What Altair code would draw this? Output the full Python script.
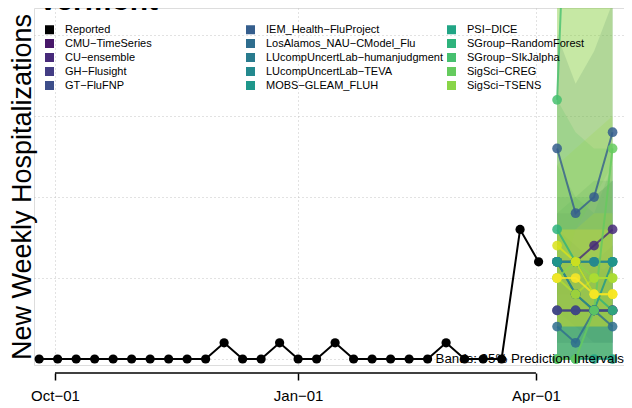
import altair as alt
import pandas as pd

# ---------------- data ----------------
reported_dates = [
    "2021-09-25", "2021-10-02", "2021-10-09", "2021-10-16", "2021-10-23", "2021-10-30",
    "2021-11-06", "2021-11-13", "2021-11-20", "2021-11-27", "2021-12-04", "2021-12-11",
    "2021-12-18", "2021-12-25", "2022-01-01", "2022-01-08", "2022-01-15", "2022-01-22",
    "2022-01-29", "2022-02-05", "2022-02-12", "2022-02-19", "2022-02-26", "2022-03-05",
    "2022-03-12", "2022-03-19", "2022-03-26", "2022-04-02",
]
reported_values = [0, 0, 0, 0, 0, 0, 0, 0, 0, 0, 1, 0, 0, 1, 0, 0, 1, 0, 0, 0, 0, 0, 1, 0, 0, 0, 8, 6]

forecast_dates = ["2022-04-09", "2022-04-16", "2022-04-23", "2022-04-30"]

model_names = [
    "CMU−TimeSeries", "CU−ensemble", "GH−Flusight", "GT−FluFNP",
    "IEM_Health−FluProject", "LosAlamos_NAU−CModel_Flu", "LUcompUncertLab−humanjudgment",
    "LUcompUncertLab−TEVA", "MOBS−GLEAM_FLUH", "PSI−DICE", "SGroup−RandomForest",
    "SGroup−SIkJalpha", "SigSci−CREG", "SigSci−TSENS",
    "UGA_flucast−OKeeffe", "UMass−trends_ensemble", "UVAFluX−Ensemble",
]
model_colors = [
    "#481769", "#472A7A", "#433D84", "#3D4E8A", "#355E8D", "#2E6D8E", "#297B8E",
    "#23898E", "#1F978B", "#21A585", "#2EB37C", "#46C06F", "#65CB5E", "#89D548",
    "#B0DD2F", "#D8E219", "#FDE725",
]
median_values = [
    [3, 3, 3, 3], [6, 6, 7, 8], [6, 4, 3, 3], [3, 3, 3, 3], [13, 9, 10, 14],
    [2, 1, 3, 2], [6, 6, 6, 6], [6, 6, 6, 6], [6, 4, 3, 6], [0, 0, 0, 0],
    [8, 6, 4, 3], [16, 44, 55, 60], [0, 0, 3, 13], [5, 6, 5, 5],
    [5, 4, 5, 5], [7, 6, 4, 4], [5, 5, 4, 4],
]
lower_values = [
    [1, 1, 1, 1], [4, 4, 5, 5], [3, 2, 1, 1], [1, 1, 1, 1], [0, 0, 0, 0],
    [0, 0, 0, 0], [0, 0, 0, 0], [0, 0, 0, 0], [0, 0, 0, 0], [0, 0, 0, 0],
    [0, 0, 0, 0], [4, 8, 10, 12], [0, 0, 0, 0], [0, 0, 0, 0],
    [2, 2, 2, 2], [2, 2, 2, 2], [2, 2, 2, 2],
]
upper_values = [
    [5, 5, 5, 6], [9, 9, 10, 11], [8, 7, 6, 6], [6, 6, 6, 7], [20, 17, 19, 22],
    [5, 4, 6, 5], [10, 10, 11, 11], [9, 10, 10, 11], [12, 10, 9, 12], [3, 3, 4, 4],
    [16, 14, 13, 13], [45, 90, 120, 150], [28, 30, 35, 40], [12, 13, 14, 15],
    [8, 8, 9, 9], [30, 35, 40, 45], [8, 8, 8, 8],
]
legend_order = [
    "Reported", "IEM_Health−FluProject", "PSI−DICE",
    "CMU−TimeSeries", "LosAlamos_NAU−CModel_Flu", "SGroup−RandomForest",
    "CU−ensemble", "LUcompUncertLab−humanjudgment", "SGroup−SIkJalpha",
    "GH−Flusight", "LUcompUncertLab−TEVA", "SigSci−CREG",
    "GT−FluFNP", "MOBS−GLEAM_FLUH", "SigSci−TSENS",
]
tick_dates = ["2021-10-01", "2022-01-01", "2022-04-01"]
y_grid_values = [0, 5, 10, 15, 20]
title_text = "Vermont"
y_title = "New Weekly Hospitalizations"
band_note = "Bands: 95% Prediction Intervals"

# ---------------- tables ----------------
reported_df = pd.DataFrame({"date": reported_dates, "value": reported_values})
rows = []
for name, med, lo, up in zip(model_names, median_values, lower_values, upper_values):
    for d, m, l, u in zip(forecast_dates, med, lo, up):
        rows.append({"model": name, "date": d, "median": m, "lower": l, "upper": u})
fc_df = pd.DataFrame(rows)
frame_df = pd.DataFrame({"start": [tick_dates[0]], "end": [tick_dates[-1]]})

# ---------------- scales / encodings ----------------
FONT = "Liberation Sans"
W, H = 590, 357

x_scale = alt.Scale(
    type="utc",
    domain=[
        alt.DateTime(year=2021, month=9, date=23, hours=1, minutes=16, utc=True),
        alt.DateTime(year=2022, month=5, date=4, hours=7, minutes=44, utc=True),
    ],
)
y_scale = alt.Scale(domain=[-0.37, 21.67], nice=False, zero=False)

x_axis = alt.Axis(
    values=[alt.DateTime(year=2021, month=10, date=1, utc=True),
            alt.DateTime(year=2022, month=1, date=1, utc=True),
            alt.DateTime(year=2022, month=4, date=1, utc=True)],
    labelExpr="utcFormat(datum.value, '%b−%d')", title=None, offset=8, domain=False,
    ticks=True, tickSize=7, tickWidth=1.5, tickColor="black",
    labelFontSize=15, labelColor="black", labelPadding=8, labelFont=FONT,
    grid=True, gridDash=[1, 3], gridColor="#c4c4c4", gridWidth=1,
)
y_axis = alt.Axis(
    values=y_grid_values, labels=False, ticks=False, domain=False,
    grid=True, gridDash=[1, 3], gridColor="#c4c4c4", gridWidth=1,
    title=y_title, titleFontSize=27, titleFontWeight="normal", titleColor="black",
    titleFont=FONT, titlePadding=4, titleBaseline="alphabetic",
)

color_scale = alt.Scale(domain=["Reported"] + model_names, range=["#000000"] + model_colors)
legend = alt.Legend(
    values=legend_order, title=None, orient="none", legendX=10, legendY=16,
    columns=3, direction="horizontal", gridAlign="all", columnPadding=2,
    rowPadding=2, symbolType="square", symbolSize=81, symbolOpacity=1,
    symbolStrokeWidth=0, labelFontSize=11, labelFont=FONT, labelColor="black",
    labelOffset=10, padding=0, labelLimit=300,
)
C = alt.Color("model:N", scale=color_scale, legend=legend)
X = alt.X("date:T", scale=x_scale, axis=x_axis)

bands = alt.Chart(fc_df).mark_area(opacity=0.2, clip=True).encode(
    x=X, y=alt.Y("lower:Q", scale=y_scale, axis=y_axis), y2="upper:Q", color=C,
)

base = alt.Chart(fc_df).encode(x=X, y=alt.Y("median:Q", scale=y_scale, axis=y_axis))
model_lines = base.mark_line(strokeWidth=2, opacity=0.8, clip=True).encode(color=C)
model_points = base.mark_circle(size=95, opacity=0.85, clip=True).encode(color=C)

rep = alt.Chart(reported_df).encode(x=X, y=alt.Y("value:Q", scale=y_scale, axis=y_axis))
rep_line = rep.mark_line(color="black", strokeWidth=2)
rep_points = rep.mark_circle(color="black", size=85, opacity=1)

frame = alt.Chart(frame_df).mark_rule(color="black", strokeWidth=1.5).encode(
    x=alt.X("start:T", scale=x_scale, axis=x_axis), x2="end:T", y=alt.value(H + 8),
)

note = alt.Chart(pd.DataFrame({"t": [band_note]})).mark_text(
    align="right", baseline="alphabetic", fontSize=13.3, font=FONT, color="black"
).encode(x=alt.value(590), y=alt.value(355), text="t:N")

title = alt.Chart(pd.DataFrame({"t": [title_text]})).mark_text(
    align="left", baseline="alphabetic", fontSize=30, fontWeight="bold", font=FONT,
    color="black",
).encode(x=alt.value(4), y=alt.value(2), text="t:N")

chart = alt.layer(
    bands, model_lines, model_points, rep_line, rep_points, frame, note, title
).properties(
    width=W, height=H,
    autosize=alt.AutoSizeParams(type="none"),
    padding={"left": 26, "top": 0, "right": 0, "bottom": 38},
).configure_view(stroke=None).configure(font=FONT)

chart.save("out.html", embed_options={"renderer": "svg", "actions": False})
